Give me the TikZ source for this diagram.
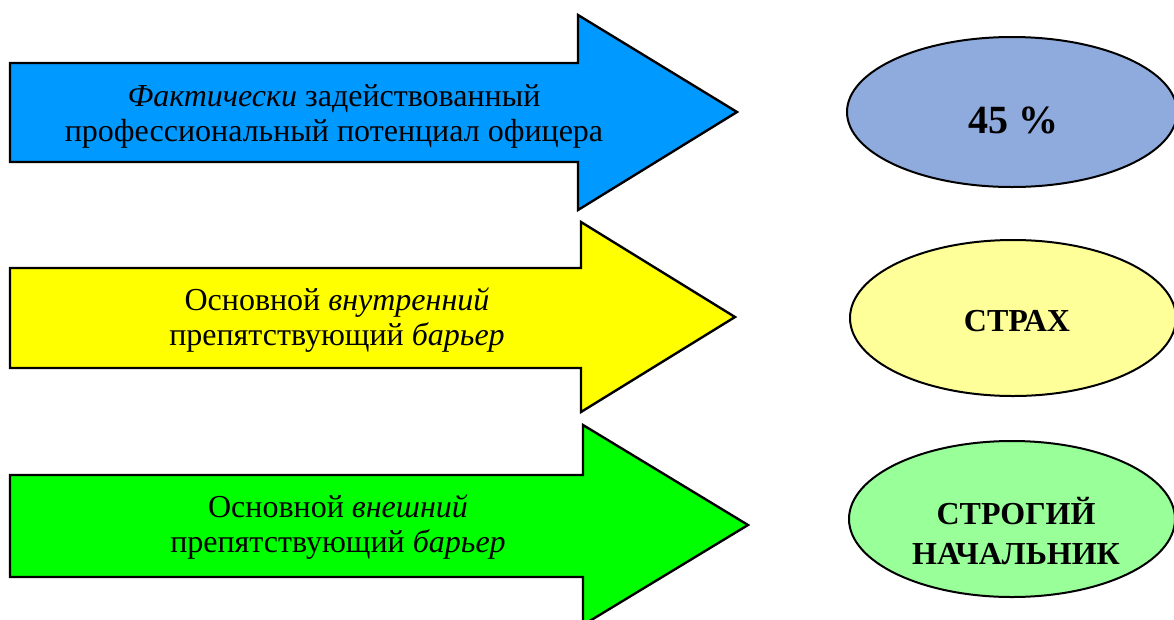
\documentclass[tikz,border=0pt]{standalone}
\usepackage{fontspec}
\setmainfont{Liberation Serif}
\definecolor{arrblue}{RGB}{0,153,255}
\definecolor{arryellow}{RGB}{255,255,0}
\definecolor{arrgreen}{RGB}{0,255,0}
\definecolor{ellblue}{RGB}{143,170,220}
\definecolor{ellyellow}{RGB}{255,255,153}
\definecolor{ellgreen}{RGB}{153,255,153}
\tikzset{
  arrowshape/.style={draw=black, line width=2.4pt, line join=miter},
  arrowtext/.style={align=center, font=\fontsize{32}{35}\selectfont},
  ellbox/.style={draw=black, line width=2pt},
  elltext/.style={align=center, font=\fontsize{32}{40}\selectfont\bfseries},
}
\begin{document}
\begin{tikzpicture}[x=1pt,y=-1pt]
\useasboundingbox (0,0) rectangle (1174,619);
% arrows
\draw[arrowshape, fill=arrblue] (10,63) -- (578,63) -- (578,15) -- (737,112) -- (578,210) -- (578,162) -- (10,162) -- cycle;
\draw[arrowshape, fill=arryellow] (10,268) -- (581,268) -- (581,222) -- (735,317) -- (581,412) -- (581,368) -- (10,368) -- cycle;
\draw[arrowshape, fill=arrgreen] (10,475) -- (583,475) -- (583,425) -- (748,525) -- (583,625) -- (583,577) -- (10,577) -- cycle;
\node[arrowtext] (t1) at (334,116) {\textit{Фактически} задействованный\\профессиональный потенциал офицера};
\node[arrowtext] (t2) at (337,320) {Основной \textit{внутренний}\\препятствующий \textit{барьер}};
\node[arrowtext] (t3) at (338,527) {Основной \textit{внешний}\\препятствующий \textit{барьер}};
% ellipses
\draw[ellbox, fill=ellblue] (1012,112) ellipse [x radius=165, y radius=75];
\node[elltext, font=\fontsize{40}{44}\selectfont\bfseries] (e1) at (1013,120) {45 \%};
\draw[ellbox, fill=ellyellow] (1013,318) ellipse [x radius=163, y radius=78];
\node[elltext] (e2) at (1017,321) {СТРАХ};
\draw[ellbox, fill=ellgreen] (1012,519) ellipse [x radius=163, y radius=78];
\node[elltext] (e3) at (1016,531) {СТРОГИЙ\\НАЧАЛЬНИК};
\end{tikzpicture}
\end{document}
